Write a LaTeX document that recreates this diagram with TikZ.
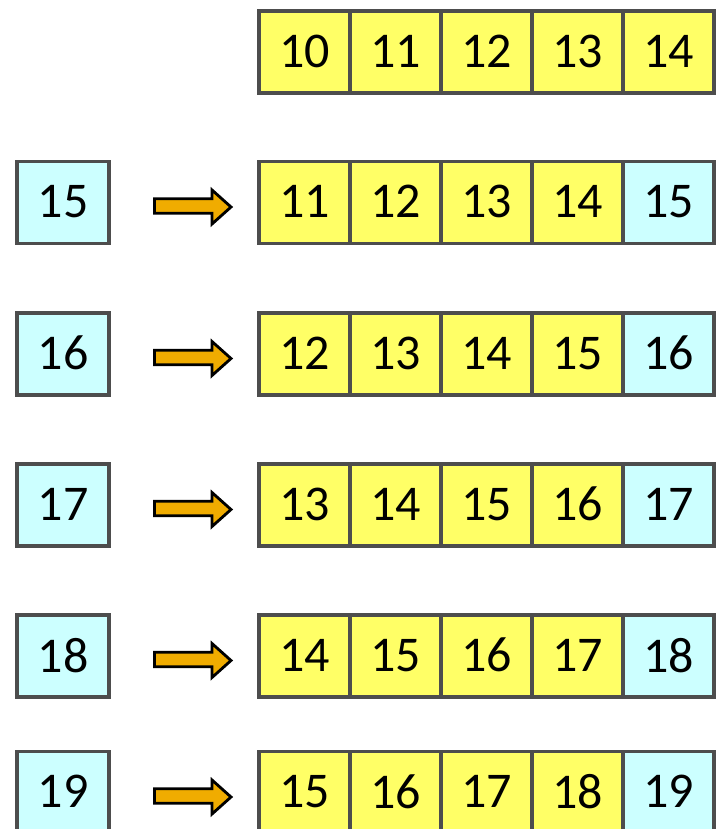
\documentclass[tikz,border=0pt]{standalone}
\usepackage{fontspec}
\setmainfont{Carlito}
\definecolor{cellyellow}{HTML}{FFFF66}
\definecolor{cellcyan}{HTML}{CCFFFF}
\definecolor{cellborder}{HTML}{4D4D4D}
\definecolor{arrowfill}{HTML}{F0AC00}
\tikzset{
  cell/.style={draw=cellborder, line width=3.3pt, minimum width=91pt, minimum height=82pt,
    inner sep=0pt, outer sep=0pt, font=\fontsize{50}{58}\selectfont, text=black},
  oldcell/.style={cell, fill=cellyellow},
  newcell/.style={cell, fill=cellcyan},
  inbox/.style={cell, fill=cellcyan, minimum width=92pt},
  blockarrow/.style={draw=black, line width=2.8pt, fill=arrowfill, line join=miter}
}
\begin{document}
\begin{tikzpicture}[x=1pt, y=-1pt]
\useasboundingbox (0,0) rectangle (715,829);
% top row
\foreach \v [count=\c] in {10,11,12,13,14} {
  \node[oldcell] (r0c\c) at ({259+91*(\c-0.5)}, 52) {\raisebox{2pt}{\v}};
}
% following rows
\foreach \r/\cy in {1/202.5, 2/354, 3/505, 4/656, 5/792.5} {
  \pgfmathtruncatemacro{\newv}{14+\r}
  \node[inbox] (L\r) at (63, \cy) {\raisebox{2pt}{\newv}};
  \foreach \c in {1,...,4} {
    \pgfmathtruncatemacro{\v}{9+\r+\c}
    \node[oldcell] (r\r c\c) at ({259+91*(\c-0.5)}, \cy) {\raisebox{2pt}{\v}};
  }
  \node[newcell] (r\r c5) at ({259+91*4.5}, \cy) {\raisebox{2pt}{\newv}};
  \draw[blockarrow, shift={(0,\cy)}]
    (154.5,-3.8) -- (212,-3.8) -- (212,-12.5) -- (231,4.5) -- (212,21.5)
    -- (212,10.8) -- (154.5,10.8) -- cycle;
}
\end{tikzpicture}
\end{document}
